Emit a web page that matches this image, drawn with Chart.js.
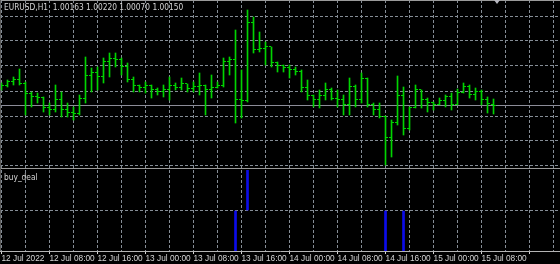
<!DOCTYPE html>
<html>
<head>
<meta charset="utf-8">
<script src="https://cdn.jsdelivr.net/npm/chart.js@4.4.0/dist/chart.umd.min.js"></script>
<style>
  html, body { margin: 0; padding: 0; background: #000; }
  body { width: 560px; height: 264px; position: relative; overflow: hidden;
         font-family: "Liberation Sans Narrow", "DejaVu Sans Condensed", sans-serif; }
  canvas { position: absolute; left: 0; }
  #main { top: 0; }
  #sub { top: 170px; }
  .lbl { position: absolute; color: #d4d4d4; font-size: 8.3px; line-height: 1; white-space: pre; }
  .rule { position: absolute; background: #9a9a9a; }
  #shift { position: absolute; left: 494px; top: 0; width: 0; height: 0;
           border-left: 3px solid transparent; border-right: 3px solid transparent; border-top: 4px solid #b8b8c0; }
</style>
</head>
<body>
<canvas id="main" width="560" height="168"></canvas>
<canvas id="sub" width="560" height="94"></canvas>
<div class="rule" style="left:0;top:0;width:560px;height:1px"></div>
<div class="rule" style="left:0;top:168px;width:560px;height:1px"></div>
<div class="rule" style="left:0;top:0;width:1px;height:251px;background:#5a5a5a"></div>
<div id="shift"></div>
<div class="lbl" id="title" style="left:4px;top:3px"></div>
<div class="lbl" style="left:4px;top:173px">buy_deal</div>
<script>
// EURUSD H1, one bar per hour from 12 Jul 2022 00:00
const opens = [
  1.0034, 1.0035, 1.0039, 1.0041, 1.0037, 1.0028, 1.0025, 1.0024, 1.0013, 1.0011,
  1.0021, 1.0011, 1.0009, 1.0008, 1.0023, 1.0046, 1.0049, 1.0045, 1.0059, 1.0063,
  1.0061, 1.0054, 1.0041, 1.0035, 1.0033, 1.0035, 1.0031, 1.0030, 1.0031, 1.0035,
  1.0033, 1.0037, 1.0032, 1.0034, 1.0035, 1.0031, 1.0033, 1.0035, 1.0059, 1.0061,
  1.0021, 1.0020, 1.0098, 1.0071, 1.0072, 1.0074, 1.0058, 1.0055, 1.0053, 1.0051,
  1.0050, 1.0033, 1.0026, 1.0021, 1.0026, 1.0031, 1.0023, 1.0021, 1.0016, 1.0034,
  1.0021, 1.0043, 1.0016, 1.0011, 1.0005, 0.9984, 0.9998, 1.0026, 0.9993, 1.0013,
  1.0031, 1.0021, 1.0018, 1.0016, 1.0020, 1.0025, 1.0016, 1.0029, 1.0034, 1.0027,
  1.0030, 1.0021, 1.00163
];
const highs = [
  1.0038, 1.0041, 1.0044, 1.0052, 1.0039, 1.0029, 1.0028, 1.0024, 1.0018, 1.0036,
  1.0029, 1.0018, 1.0014, 1.0026, 1.0064, 1.0053, 1.0054, 1.0063, 1.0068, 1.0068,
  1.0063, 1.0058, 1.0044, 1.0036, 1.0039, 1.0036, 1.0033, 1.0036, 1.0044, 1.0038,
  1.0043, 1.0037, 1.0039, 1.0048, 1.0036, 1.0046, 1.0039, 1.0063, 1.0064, 1.0091,
  1.0051, 1.0111, 1.0104, 1.0089, 1.0079, 1.0074, 1.0059, 1.0056, 1.0056, 1.0054,
  1.0051, 1.0041, 1.0026, 1.0031, 1.0038, 1.0033, 1.0031, 1.0026, 1.0043, 1.0036,
  1.0048, 1.0043, 1.0018, 1.0018, 1.0005, 1.0001, 1.0045, 1.0034, 1.0014, 1.0036,
  1.0031, 1.0023, 1.0019, 1.0023, 1.0026, 1.0028, 1.0032, 1.0038, 1.0036, 1.0033,
  1.0031, 1.0024, 1.00220
];
const lows = [
  1.0031, 1.0034, 1.0036, 1.0036, 1.0006, 1.0014, 1.0018, 1.0009, 1.0006, 1.0009,
  1.0004, 1.0004, 1.0001, 1.0006, 1.0018, 1.0029, 1.0031, 1.0038, 1.0044, 1.0054,
  1.0046, 1.0039, 1.0029, 1.0029, 1.0028, 1.0023, 1.0026, 1.0024, 1.0021, 1.0031,
  1.0031, 1.0029, 1.0029, 1.0026, 1.0006, 1.0023, 1.0033, 1.0034, 1.0046, 0.9998,
  1.0003, 1.0019, 1.0068, 1.0069, 1.0056, 1.0054, 1.0049, 1.0049, 1.0043, 1.0046,
  1.0029, 1.0021, 1.0014, 1.0013, 1.0021, 1.0021, 1.0014, 1.0006, 1.0006, 1.0014,
  1.0018, 1.0014, 1.0006, 1.0003, 0.9956, 0.9964, 0.9996, 0.9986, 0.9991, 1.0013,
  1.0013, 1.0009, 1.0011, 1.0016, 1.0014, 1.0011, 1.0016, 1.0028, 1.0023, 1.0021,
  1.0016, 1.0008, 1.00070
];
const closes = [
  1.0035, 1.0039, 1.0041, 1.0037, 1.0028, 1.0025, 1.0024, 1.0013, 1.0011, 1.0021,
  1.0011, 1.0009, 1.0008, 1.0023, 1.0046, 1.0049, 1.0045, 1.0059, 1.0063, 1.0061,
  1.0054, 1.0041, 1.0035, 1.0033, 1.0035, 1.0031, 1.0030, 1.0031, 1.0035, 1.0033,
  1.0037, 1.0032, 1.0034, 1.0035, 1.0031, 1.0033, 1.0035, 1.0059, 1.0061, 1.0021,
  1.0020, 1.0098, 1.0071, 1.0072, 1.0074, 1.0058, 1.0055, 1.0053, 1.0051, 1.0050,
  1.0033, 1.0026, 1.0021, 1.0026, 1.0031, 1.0023, 1.0021, 1.0016, 1.0034, 1.0021,
  1.0043, 1.0016, 1.0011, 1.0005, 0.9984, 0.9998, 1.0026, 0.9993, 1.0013, 1.0031,
  1.0021, 1.0018, 1.0016, 1.0020, 1.0025, 1.0016, 1.0029, 1.0034, 1.0027, 1.0030,
  1.0021, 1.0017, 1.00150
];

// buy_deal indicator: bar number and value
const dealBars = [39, 41, 64, 67];
const dealValues = [-1, 1, -1, -1];

// time labels, one every 8 bars
const timeLabels = ['12 Jul 2022', '12 Jul 08:00', '12 Jul 16:00', '13 Jul 00:00', '13 Jul 08:00',
  '13 Jul 16:00', '14 Jul 00:00', '14 Jul 08:00', '14 Jul 16:00', '15 Jul 00:00', '15 Jul 08:00'];
const priceGrid = [0.9955, 0.9980, 1.0005, 1.0030, 1.0055, 1.0080, 1.0105];

const barColor = '#00d400';
const gridColor = '#858d96';
const textColor = '#d4d4d4';
const fontFamily = "'Liberation Sans Narrow', 'Liberation Sans', sans-serif";

const last = closes.length - 1;
document.getElementById('title').textContent = 'EURUSD,H1  ' +
  [opens[last], highs[last], lows[last], closes[last]].map(v => v.toFixed(5)).join(' ');

function xAxis(showLabels) {
  return {
    type: 'linear',
    min: -0.25,
    max: 93.08,
    offset: false,
    afterBuildTicks: scale => {
      const ticks = [];
      for (let h = 0; h <= 92; h += 4) ticks.push({ value: h });
      scale.ticks = ticks;
    },
    grid: {
      offset: false,
      color: gridColor,
      lineWidth: 1,
      drawTicks: showLabels,
      tickLength: 3,
      tickColor: ctx => (ctx.tick && ctx.tick.value % 8 === 0) ? textColor : 'transparent'
    },
    border: { display: showLabels, color: '#b4b4b4', dash: [3, 2] },
    ticks: {
      display: showLabels,
      autoSkip: false,
      maxRotation: 0,
      minRotation: 0,
      align: 'start',
      padding: 0,
      color: textColor,
      // "condensed" lands in the font shorthand and picks the narrow face
      font: { family: fontFamily, size: 8.3, weight: 'condensed' },
      callback: v => v % 8 === 0 ? (timeLabels[v / 8] || '') : ''
    }
  };
}

const ohlcTicks = {
  id: 'ohlcTicks',
  beforeDatasetsDraw(chart) {
    const { ctx, chartArea, scales: { y } } = chart;
    ctx.save();
    ctx.fillStyle = '#8c8c98';
    ctx.fillRect(chartArea.left, Math.floor(y.getPixelForValue(closes[last])), chartArea.width, 1);
    ctx.restore();
  },
  afterDatasetsDraw(chart) {
    const { ctx, scales: { x, y } } = chart;
    ctx.save();
    ctx.fillStyle = barColor;
    closes.forEach((c, i) => {
      const px = Math.floor(x.getPixelForValue(i));
      ctx.fillRect(px - 2, Math.floor(y.getPixelForValue(opens[i])), 2, 1);
      ctx.fillRect(px + 1, Math.floor(y.getPixelForValue(c)), 2, 1);
    });
    ctx.restore();
  }
};

new Chart(document.getElementById('main'), {
  type: 'bar',
  data: {
    datasets: [{
      data: highs.map((h, i) => ({ x: i, y: [lows[i], h] })),
      backgroundColor: barColor,
      borderWidth: 0,
      barThickness: 1
    }]
  },
  options: {
    responsive: false,
    animation: false,
    layout: { padding: 0 },
    plugins: { legend: { display: false }, tooltip: { enabled: false } },
    scales: {
      x: xAxis(false),
      y: {
        min: 0.9953,
        max: 1.0121,
        afterBuildTicks: scale => { scale.ticks = priceGrid.map(v => ({ value: v })); },
        grid: { color: gridColor, drawTicks: false },
        border: { display: false, dash: [3, 2] },
        ticks: { display: false }
      }
    }
  },
  plugins: [ohlcTicks]
});

new Chart(document.getElementById('sub'), {
  type: 'bar',
  data: {
    datasets: [{
      data: dealBars.map((b, i) => ({ x: b, y: dealValues[i] })),
      backgroundColor: '#0c0cea',
      borderWidth: 0,
      barThickness: 2
    }]
  },
  options: {
    responsive: false,
    animation: false,
    layout: { padding: 0 },
    plugins: { legend: { display: false }, tooltip: { enabled: false } },
    scales: {
      x: xAxis(true),
      y: {
        min: -1,
        max: 1,
        afterBuildTicks: scale => { scale.ticks = [{ value: 0 }]; },
        grid: { color: gridColor, drawTicks: false },
        border: { display: false, dash: [3, 2] },
        ticks: { display: false }
      }
    }
  }
});
</script>
</body>
</html>
